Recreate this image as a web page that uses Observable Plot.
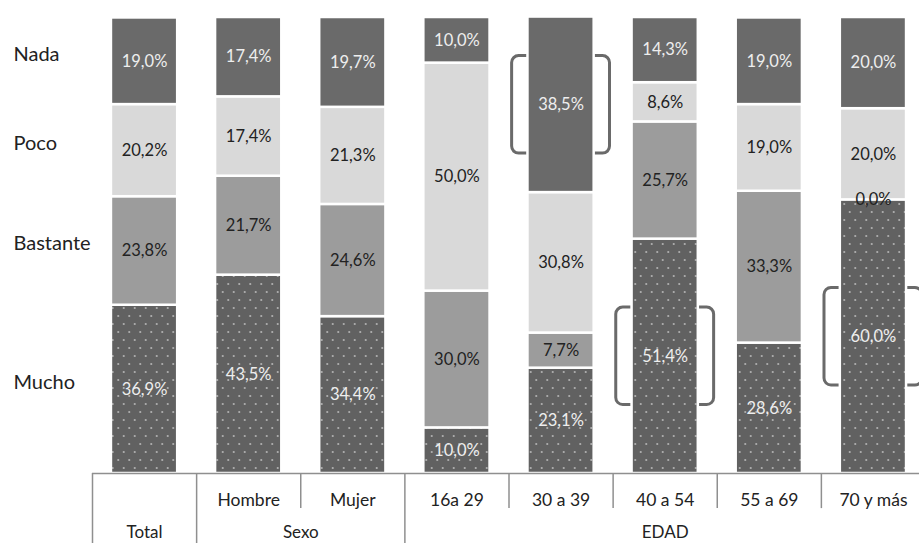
<!DOCTYPE html>
<html>
<head>
<meta charset="utf-8">
<script src="https://cdn.jsdelivr.net/npm/d3@7"></script>
<script src="https://cdn.jsdelivr.net/npm/@observablehq/plot@0.6"></script>
<style>
  html, body { margin: 0; padding: 0; background: #fff; }
  #chart svg { display: block; font-family: Lato, "Open Sans", sans-serif; }
</style>
</head>
<body>
<div id="chart"></div>
<script>
// ---- data ----
const categories = ["Total", "Hombre", "Mujer", "16a 29", "30 a 39", "40 a 54", "55 a 69", "70 y más"];
const groups = ["Total", "Sexo", "Sexo", "EDAD", "EDAD", "EDAD", "EDAD", "EDAD"];
const responses = ["Mucho", "Bastante", "Poco", "Nada"];
const mucho    = [36.9, 43.5, 34.4, 10.0, 23.1, 51.4, 28.6, 60.0];
const bastante = [23.8, 21.7, 24.6, 30.0,  7.7, 25.7, 33.3,  0.0];
const poco     = [20.2, 17.4, 21.3, 50.0, 30.8,  8.6, 19.0, 20.0];
const nada     = [19.0, 17.4, 19.7, 10.0, 38.5, 14.3, 19.0, 20.0];
const highlights = [
  {cat: "30 a 39", resp: "Nada"},
  {cat: "40 a 54", resp: "Mucho"},
  {cat: "70 y más", resp: "Mucho"}
];

// ---- build stacked rows ----
const series = [mucho, bastante, poco, nada];
const rows = [];
categories.forEach((c, i) => {
  let acc = 0;
  responses.forEach((r, k) => {
    const v = series[k][i];
    rows.push({cat: c, i, resp: r, value: v, y1: acc, y2: acc + v, mid: acc + v / 2});
    acc += v;
  });
});
const fmt = v => v.toFixed(1).replace(".", ",") + "%";
const darkResp = new Set(["Mucho", "Nada"]);

const bracketRows = highlights.map(h => rows.find(r => r.cat === h.cat && r.resp === h.resp));

// table helpers
const boundaries = categories.map((c, i) => ({x: i - 0.5, full: i === 0 || groups[i] !== groups[i - 1]}));
const groupNames = [...new Set(groups)];
const groupRows = groupNames.map(g => {
  const ids = categories.map((c, i) => i).filter(i => groups[i] === g);
  return {name: g, x: d3.mean(ids)};
});
const row1 = categories.map((c, i) => ({name: c, x: i})).filter((d, i) => groups.filter(g => g === groups[i]).length > 1);
const totalRows = rows.filter(r => r.cat === "Total");

const half = 0.318;

const chart = Plot.plot({
  width: 919,
  height: 543,
  marginLeft: 92,
  marginRight: 0,
  marginTop: 0,
  marginBottom: 0,
  style: {background: "#fff", fontFamily: "Lato, 'Open Sans', sans-serif"},
  x: {domain: [-0.5, 7.5], range: [92, 925], axis: null},
  y: {domain: [0, 100], range: [473, 17], axis: null},
  color: {domain: responses, range: ["url(#dots)", "#9c9c9c", "#d9d9d9", "#6a6a6a"]},
  marks: [
    // highlight brackets (behind bars)
    Plot.rect(bracketRows, {
      x1: d => d.i - 0.47, x2: d => d.i + 0.47,
      y1: d => d.mid - 10.7, y2: d => d.mid + 10.7,
      rx: 7, fill: "none", stroke: "#6a6a6a", strokeWidth: 3
    }),
    // stacked bars
    Plot.rectY(rows, {
      x1: d => d.i - half, x2: d => d.i + half,
      y1: "y1", y2: "y2", fill: "resp",
      stroke: "white", strokeWidth: 2.5
    }),
    // value labels
    Plot.text(rows.filter(d => darkResp.has(d.resp)), {
      x: "i", y: "mid", text: d => fmt(d.value),
      fill: "#eeeeee", fontSize: 16.5
    }),
    Plot.text(rows.filter(d => !darkResp.has(d.resp)), {
      x: "i", y: "mid", text: d => fmt(d.value),
      fill: "#222", fontSize: 16.5
    }),
    // left category labels
    Plot.text(totalRows, {
      x: -1.259, y: "mid", text: "resp", textAnchor: "start",
      dy: -7, fill: "#222", fontSize: 20
    }),
    // table
    Plot.ruleY([0], {stroke: "#8f8f8f", strokeWidth: 1.5}),
    Plot.ruleX(boundaries, {
      x: "x", y1: 0, y2: d => d.full ? -16 : -7.7,
      stroke: "#8f8f8f", strokeWidth: 1.5
    }),
    Plot.text(row1, {x: "x", y: -5.8, text: "name", fill: "#222", fontSize: 17.5}),
    Plot.text(groupRows, {x: "x", y: -12.9, text: "name", fill: "#222", fontSize: 17})
  ]
});

// dotted pattern for "Mucho"
const ns = "http://www.w3.org/2000/svg";
const defs = document.createElementNS(ns, "defs");
const pat = document.createElementNS(ns, "pattern");
pat.setAttribute("id", "dots");
pat.setAttribute("patternUnits", "userSpaceOnUse");
pat.setAttribute("width", "11");
pat.setAttribute("height", "16");
const bg = document.createElementNS(ns, "rect");
bg.setAttribute("width", "11"); bg.setAttribute("height", "16"); bg.setAttribute("fill", "#616161");
pat.appendChild(bg);
[[2.75, 4], [8.25, 12]].forEach(([cx, cy]) => {
  const c = document.createElementNS(ns, "circle");
  c.setAttribute("cx", cx); c.setAttribute("cy", cy); c.setAttribute("r", "1.1");
  c.setAttribute("fill", "#b0b0b0");
  pat.appendChild(c);
});
defs.appendChild(pat);
chart.insertBefore(defs, chart.firstChild);

document.getElementById("chart").appendChild(chart);
</script>
</body>
</html>
